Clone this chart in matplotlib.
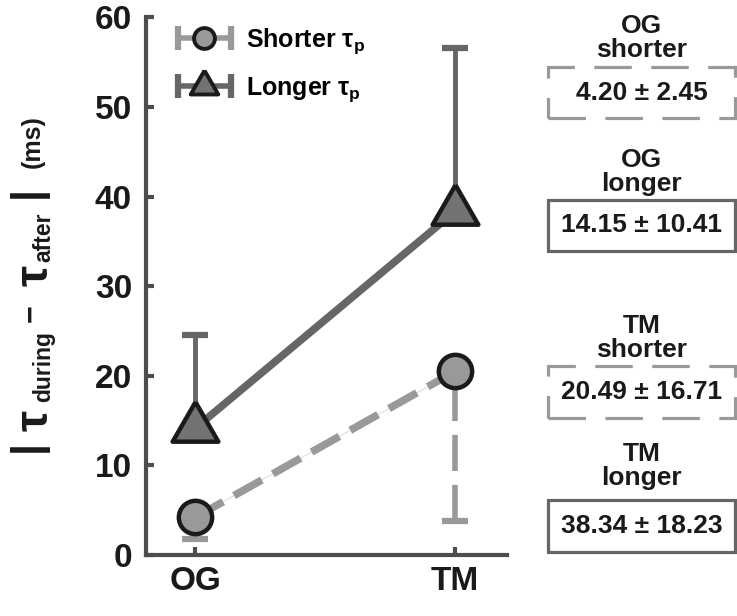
"""
Shorter vs longer tau_p: |tau_during - tau_after| for OG and TM walking.
"""

import matplotlib
matplotlib.use("Agg")  # headless backend
import matplotlib.pyplot as plt
from matplotlib.lines import Line2D
from matplotlib.patches import Rectangle
from matplotlib.legend_handler import HandlerLine2D, HandlerTuple

# --- data -------------------------------------------------------------------
conditions = ["OG", "TM"]
shorter_mean = [4.20, 20.49]
shorter_sd = [2.45, 16.71]
longer_mean = [14.15, 38.34]
longer_sd = [10.41, 18.23]
y_ticks = [0, 10, 20, 30, 40, 50, 60]
box_titles = ["OG\nshorter", "OG\nlonger", "TM\nshorter", "TM\nlonger"]
box_means = [shorter_mean[0], longer_mean[0], shorter_mean[1], longer_mean[1]]
box_sds = [shorter_sd[0], longer_sd[0], shorter_sd[1], longer_sd[1]]
box_dashed = [True, False, True, False]
ylabel_parts = ["|", "\u03c4", "during", "\u2212", "\u03c4", "after", "|", "(ms)"]

# --- style ------------------------------------------------------------------
LIGHT = "#999999"
MID = "#666666"
TRI_FILL = "#737373"
EDGE = "#1a1a1a"
SPINE = "#4d4d4d"

plt.rcParams["font.family"] = ["Liberation Sans", "DejaVu Sans"]
plt.rcParams["font.weight"] = "bold"
plt.rcParams["mathtext.fontset"] = "custom"
for key in ("rm", "it", "bf", "sf"):
    plt.rcParams[f"mathtext.{key}"] = "Liberation Sans:bold"
plt.rcParams["lines.scale_dashes"] = False

# equilateral triangle, centroid on the data point
TRIANGLE = [(0, 1.1547), (-1, -0.5774), (1, -0.5774), (0, 1.1547)]

W, H = 737.0, 616.0
fig = plt.figure(figsize=(W / 100, H / 100), dpi=100)
ax = fig.add_axes([0.198, 0.099, 0.49, 0.873])
x = [1, 2]

# error bars: shorter only downwards, longer only upwards
eb_s = ax.errorbar(x, shorter_mean, yerr=[shorter_sd, [0, 0]], fmt="none",
                   ecolor=LIGHT, elinewidth=4, capsize=9.5, capthick=4.5, zorder=2)
eb_s[2][0].set_linestyle((0, (26, 10)))
ax.errorbar(x, longer_mean, yerr=[[0, 0], longer_sd], fmt="none",
            ecolor=MID, elinewidth=3.5, capsize=9.5, capthick=4.5, zorder=2)

# connecting lines (thin light line shows through the dash gaps, as in the export)
ax.plot(x, shorter_mean, color="#dddddd", lw=0.8, zorder=3)
ax.plot(x, shorter_mean, color=LIGHT, lw=5.5, ls=(0, (23, 9)),
        solid_capstyle="butt", zorder=3)
ax.plot(x, longer_mean, color=MID, lw=5.5, zorder=3)

ax.plot(x, shorter_mean, ls="none", marker="o", ms=24, mfc=LIGHT, mec=EDGE,
        mew=3.2, zorder=5)
ax.plot(x, longer_mean, ls="none", marker=TRIANGLE, ms=38, mfc=TRI_FILL, mec=EDGE,
        mew=3.2, zorder=5)

# axes cosmetics
ax.set_xlim(0.81, 2.2)
ax.set_ylim(0, 60)
ax.set_xticks(x)
ax.set_xticklabels(conditions)
ax.set_yticks(y_ticks)
for side in ("top", "right"):
    ax.spines[side].set_visible(False)
for side in ("left", "bottom"):
    ax.spines[side].set_color(SPINE)
    ax.spines[side].set_linewidth(3)
ax.tick_params(direction="in", length=6, width=3, color=SPINE,
               labelsize=24, labelcolor=EDGE)
ax.tick_params(axis="y", pad=10)
ax.tick_params(axis="x", pad=8)
for lab in ax.get_xticklabels() + ax.get_yticklabels():
    lab.set_fontweight("bold")

# legend: errorbar-style glyphs  |--o--|
def glyph(color, marker, ms, fill):
    caps = Line2D([], [], color=color, lw=4, marker="|", ms=17, mew=4.5)
    mark = Line2D([], [], ls="none", marker=marker, ms=ms, mfc=fill, mec=EDGE, mew=2.8)
    return (caps, mark), caps, mark

h_s, caps_s, mark_s = glyph(LIGHT, "o", 15, LIGHT)
h_l, caps_l, mark_l = glyph(MID, TRIANGLE, 23, TRI_FILL)
hmap = {caps_s: HandlerLine2D(numpoints=2), caps_l: HandlerLine2D(numpoints=2),
        mark_s: HandlerLine2D(numpoints=1), mark_l: HandlerLine2D(numpoints=1),
        tuple: HandlerTuple(ndivide=1)}
ax.legend([h_s, h_l], [r"Shorter $\tau_p$", r"Longer $\tau_p$"], handler_map=hmap,
          loc="upper left", bbox_to_anchor=(0.02, 1.015), frameon=False,
          fontsize=18, handlelength=2.7, handletextpad=0.3, labelspacing=0.75,
          borderpad=0.2)

# y label built from pieces so the tau's can be large and subscripts small
# (size pt, baseline x px, centre y px from top)
label_layout = [(31, 39, 446), (34, 48, 420), (16.5, 50, 366), (22, 39, 313),
                (34, 48, 275), (16.5, 50, 237), (31, 39, 192), (18, 40, 142)]
for txt, (size, bx, cy) in zip(ylabel_parts, label_layout):
    fig.text(bx / W, 1 - cy / H, txt, rotation=90, rotation_mode="anchor",
             ha="center", va="baseline", fontsize=size, color=EDGE,
             fontweight="bold")

# summary boxes on the right (pixel layout from top of figure)
box_left, box_right = 548, 735
box_tops = [67, 200, 366, 500]
box_bottoms = [118, 251, 418, 552]
title_centers = [38, 172, 338, 466]
for title, m, s, dashed, top, bot, tc in zip(box_titles, box_means, box_sds,
                                             box_dashed, box_tops, box_bottoms,
                                             title_centers):
    cx = (box_left + box_right) / 2 / W
    fig.text(cx, 1 - tc / H, title, ha="center", va="center", fontsize=19,
             linespacing=1.0, color=EDGE, fontweight="bold")
    rect = Rectangle((box_left / W, 1 - bot / H), (box_right - box_left) / W,
                     (bot - top) / H, transform=fig.transFigure, fill=False,
                     ec=LIGHT if dashed else MID, lw=2.3,
                     ls=(0, (27, 14)) if dashed else "-")
    fig.add_artist(rect)
    fig.text(cx, 1 - (top + bot) / 2 / H, f"{m:.2f} \u00b1 {s:.2f}", ha="center",
             va="center", fontsize=19, color=EDGE, fontweight="bold")

fig.savefig("out.png", dpi=100)
